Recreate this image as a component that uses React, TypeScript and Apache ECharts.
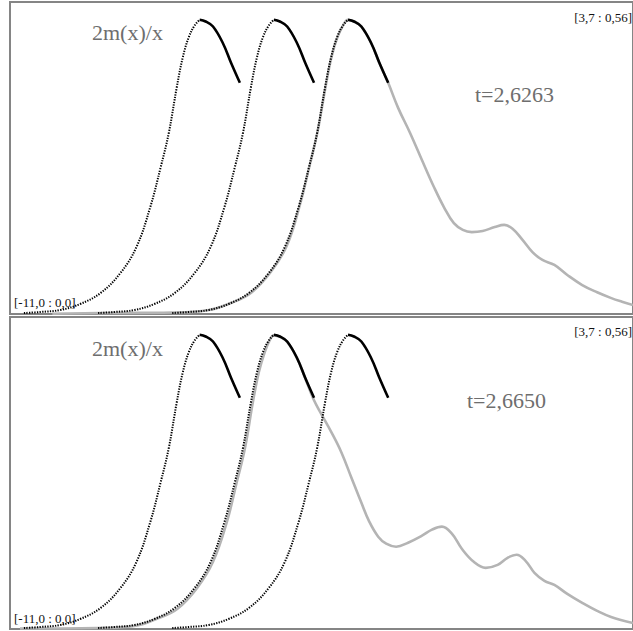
import React, { useEffect, useRef } from "react";
import * as echarts from "echarts";

// Axis window shown in each panel: [xmin : ymin] .. [xmax : ymax]
const X_MIN = -11.0;
const X_MAX = 3.7;
const Y_MIN = 0.0;
const Y_MAX = 0.56;
const cornerLow = "[-11,0 : 0,0]";
const cornerHigh = "[3,7 : 0,56]";

// Time stamp of each panel
const panelTimes = ["t=2,6263", "t=2,6650"];
const curveLabel = "2m(x)/x";

// Positions of the peaks of the three travelling fronts
const frontPeaks = [-6.525, -4.775, -3.025];

// Front profile, relative to its peak: rising part (dotted) and falling part (solid)
const riseDx = [-4.147, -3.757, -3.287, -2.818, -2.339, -1.869, -1.493, -1.165, -0.918, -0.728, -0.54, -0.397, -0.256, -0.117, 0];
const riseY = [0.0018, 0.0036, 0.0072, 0.018, 0.0377, 0.0736, 0.12, 0.192, 0.264, 0.325, 0.407, 0.461, 0.497, 0.518, 0.528];
const fallDx = [0, 0.141, 0.315, 0.549, 0.74, 0.949];
const fallY = [0.528, 0.525, 0.516, 0.486, 0.451, 0.415];

// 2m(x)/x at t=2,6263
const grayTopX = [-10.0, -8.887, -7.173, -6.304, -5.787, -5.317, -4.848, -4.472, -4.167, -3.932, -3.744, -3.556, -3.415, -3.274, -3.134, -3.025, -2.875, -2.711, -2.476, -2.288, -2.077, -1.842, -1.56, -1.278, -0.997, -0.762, -0.527, -0.316, -0.104, 0.154, 0.436, 0.661, 0.858, 1.093, 1.328, 1.563, 1.845, 2.15, 2.502, 2.854, 3.174, 3.441, 3.7];
const grayTopY = [0.0005, 0.0018, 0.0027, 0.0072, 0.0197, 0.0377, 0.0754, 0.122, 0.194, 0.266, 0.327, 0.407, 0.461, 0.497, 0.519, 0.528, 0.525, 0.516, 0.486, 0.451, 0.415, 0.37, 0.325, 0.276, 0.228, 0.192, 0.163, 0.151, 0.147, 0.149, 0.156, 0.16, 0.153, 0.133, 0.111, 0.097, 0.088, 0.07, 0.052, 0.039, 0.029, 0.022, 0.016];

// 2m(x)/x at t=2,6650
const grayBottomX = [-10.765, -8.934, -8.065, -7.548, -7.055, -6.585, -6.21, -5.881, -5.646, -5.458, -5.27, -5.129, -4.989, -4.871, -4.775, -4.613, -4.449, -4.214, -4.026, -3.838, -3.65, -3.415, -3.18, -2.946, -2.711, -2.523, -2.312, -2.124, -1.889, -1.607, -1.278, -1.044, -0.809, -0.574, -0.339, -0.057, 0.224, 0.506, 0.741, 0.952, 1.164, 1.375, 1.61, 1.845, 2.15, 2.502, 2.854, 3.183, 3.7];
const grayBottomY = [0.0009, 0.0018, 0.0054, 0.018, 0.036, 0.0738, 0.1206, 0.1927, 0.2647, 0.3241, 0.4069, 0.461, 0.497, 0.5186, 0.527, 0.524, 0.5141, 0.4844, 0.4484, 0.4123, 0.3853, 0.3529, 0.3169, 0.2719, 0.2269, 0.1927, 0.1657, 0.1531, 0.1477, 0.1549, 0.1675, 0.1783, 0.1837, 0.1711, 0.144, 0.1206, 0.1098, 0.1152, 0.1278, 0.1332, 0.1224, 0.1008, 0.0864, 0.0792, 0.063, 0.0468, 0.0324, 0.0216, 0.0108];

const zip = (xs: number[], ys: number[]) => xs.map((x, i) => [x, ys[i]]);
const shifted = (xs: number[], ys: number[], at: number) => xs.map((x, i) => [x + at, ys[i]]);

const PANELS = [
  { top: 2, height: 312, gx: grayTopX, gy: grayTopY },
  { top: 317, height: 312, gx: grayBottomX, gy: grayBottomY },
];

export default function App() {
  const ref = useRef<HTMLDivElement>(null);

  useEffect(() => {
    if (!ref.current) return;
    const chart = echarts.init(ref.current, undefined, { renderer: "svg" });

    const grid = PANELS.map((p) => ({
      left: 10,
      top: p.top,
      width: 626,
      height: p.height,
      show: true,
      borderColor: "#858585",
      borderWidth: 2,
      backgroundColor: "#ffffff",
    }));
    const xAxis = PANELS.map((_, i) => ({
      type: "value",
      gridIndex: i,
      min: X_MIN,
      max: X_MAX,
      show: false,
    }));
    const yAxis = PANELS.map((_, i) => ({
      type: "value",
      gridIndex: i,
      min: Y_MIN,
      max: Y_MAX,
      show: false,
    }));

    const series: any[] = [];
    PANELS.forEach((p, i) => {
      series.push({
        type: "line",
        xAxisIndex: i,
        yAxisIndex: i,
        data: zip(p.gx, p.gy),
        smooth: 0.4,
        showSymbol: false,
        lineStyle: { color: "#b4b4b4", width: 2.6 },
        z: 2,
      });
      frontPeaks.forEach((peak) => {
        series.push({
          type: "line",
          xAxisIndex: i,
          yAxisIndex: i,
          data: shifted(riseDx, riseY, peak),
          smooth: 0.4,
          showSymbol: false,
          lineStyle: { color: "#000000", width: 2, type: [1.3, 1.3] },
          z: 3,
        });
        series.push({
          type: "line",
          xAxisIndex: i,
          yAxisIndex: i,
          data: shifted(fallDx, fallY, peak),
          smooth: 0.4,
          showSymbol: false,
          lineStyle: { color: "#000000", width: 2.6 },
          z: 3,
        });
      });
    });

    const small = { fontFamily: "Liberation Serif", fontSize: 13, fill: "#111111" };
    const big = { fontFamily: "Liberation Serif", fontSize: 22, fill: "#6e6e6e" };
    const graphic: any[] = [];
    const textPos = [
      { high: [632, 17], low: [14, 302], label: [92, 32], time: [475, 94] },
      { high: [632, 331], low: [14, 618], label: [92, 348], time: [467, 400] },
    ];
    textPos.forEach((t, i) => {
      graphic.push({ type: "text", x: t.high[0], y: t.high[1], style: { ...small, text: cornerHigh, textAlign: "right", textVerticalAlign: "middle" }, z: 10 });
      graphic.push({ type: "text", x: t.low[0], y: t.low[1], style: { ...small, text: cornerLow, textAlign: "left", textVerticalAlign: "middle" }, z: 10 });
      graphic.push({ type: "text", x: t.label[0], y: t.label[1], style: { ...big, text: curveLabel, textAlign: "left", textVerticalAlign: "middle" }, z: 10 });
      graphic.push({ type: "text", x: t.time[0], y: t.time[1], style: { ...big, text: panelTimes[i], textAlign: "left", textVerticalAlign: "middle" }, z: 10 });
    });

    chart.setOption({
      animation: false,
      backgroundColor: "#ffffff",
      grid,
      xAxis,
      yAxis,
      series,
      graphic,
    });

    return () => chart.dispose();
  }, []);

  return (
    <div
      ref={ref}
      style={{ position: "absolute", left: 0, top: 0, width: 633, height: 631 }}
    />
  );
}
